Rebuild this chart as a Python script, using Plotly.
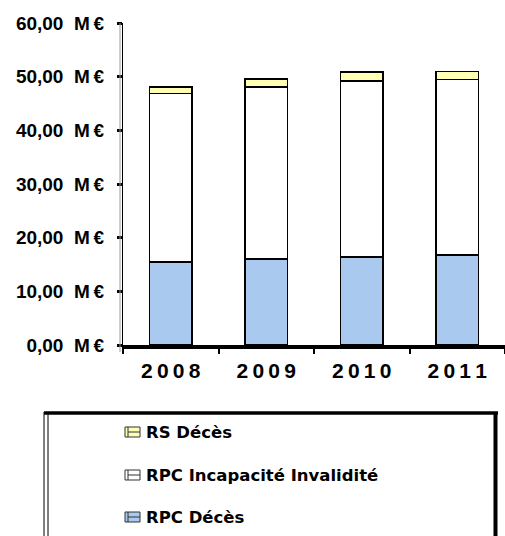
import plotly.graph_objects as go

# Chart data (M€)
years = ["2008", "2009", "2010", "2011"]
year_labels = ["2\u20090\u20090\u20098", "2\u20090\u20090\u20099", "2\u20090\u20091\u20090", "2\u20090\u20091\u20091"]
rpc_deces = [15.5, 16.0, 16.4, 16.8]
rpc_incapacite = [31.4, 32.1, 32.8, 32.7]
rs_deces = [1.2, 1.5, 1.7, 1.5]

y_ticks = [0, 10, 20, 30, 40, 50, 60]
y_tick_text = ["0,00", "10,00", "20,00", "30,00", "40,00", "50,00", "60,00"]

series_names = ["RPC Décès", "RPC Incapacité Invalidité", "RS Décès"]
series_colors = ["#A9C9EE", "#FFFFFF", "#FFFFB4"]

W, H = 505, 536
PL, PR, PT, PB = 123, 505, 23, 345


def px_x(px):
    return (px - PL) / (PR - PL)


def px_y(py):
    return (PB - py) / (PB - PT)


fig = go.Figure()
for name, vals, col in zip(series_names, [rpc_deces, rpc_incapacite, rs_deces], series_colors):
    fig.add_trace(go.Bar(
        x=years, y=vals, name=name, width=0.44,
        marker=dict(color=col, line=dict(color="black", width=1.5)),
        showlegend=False,
    ))

shapes = []
# second (shadow) line of the value axis
shapes.append(dict(type="line", xref="paper", yref="paper",
                   x0=px_x(120), x1=px_x(120), y0=px_y(352), y1=px_y(23),
                   line=dict(color="#9a9a9a", width=1)))

# legend frame
shapes.append(dict(type="line", xref="paper", yref="paper",
                   x0=px_x(44), x1=px_x(44), y0=px_y(412), y1=px_y(545),
                   line=dict(color="black", width=1)))
shapes.append(dict(type="line", xref="paper", yref="paper",
                   x0=px_x(48), x1=px_x(48), y0=px_y(414), y1=px_y(545),
                   line=dict(color="black", width=1)))
shapes.append(dict(type="line", xref="paper", yref="paper",
                   x0=px_x(44), x1=px_x(498), y0=px_y(413), y1=px_y(413),
                   line=dict(color="black", width=3.5)))
shapes.append(dict(type="line", xref="paper", yref="paper",
                   x0=px_x(495.5), x1=px_x(495.5), y0=px_y(412), y1=px_y(545),
                   line=dict(color="black", width=4)))

annotations = []
legend_rows = [("RS Décès", "#FFFFB4", 432), ("RPC Incapacité Invalidité", "#FFFFFF", 475),
               ("RPC Décès", "#A9C9EE", 517)]
for text, col, cy in legend_rows:
    shapes.append(dict(type="rect", xref="paper", yref="paper",
                       x0=px_x(125), x1=px_x(140), y0=px_y(cy - 5), y1=px_y(cy + 5),
                       fillcolor=col, line=dict(color="#333333", width=1)))
    shapes.append(dict(type="line", xref="paper", yref="paper",
                       x0=px_x(128), x1=px_x(128), y0=px_y(cy - 5), y1=px_y(cy + 5),
                       line=dict(color="#333333", width=1)))
    shapes.append(dict(type="line", xref="paper", yref="paper",
                       x0=px_x(128), x1=px_x(140), y0=px_y(cy), y1=px_y(cy),
                       line=dict(color="#333333", width=1)))
    annotations.append(dict(xref="paper", yref="paper", x=px_x(144), y=px_y(cy),
                            xanchor="left", yanchor="middle", showarrow=False,
                            text=text,
                            font=dict(family="DejaVu Sans", size=16.5, color="black", weight="bold")))

fig.update_layout(
    width=W, height=H,
    margin=dict(l=PL, r=W - PR, t=PT, b=H - PB, pad=0),
    paper_bgcolor="white", plot_bgcolor="white",
    barmode="stack", bargap=0.56,
    shapes=shapes, annotations=annotations,
    showlegend=False,
)
fig.update_xaxes(
    type="category", tickmode="array", tickvals=years, ticktext=year_labels,
    showline=True, linecolor="black", linewidth=4,
    ticks="outside", tickson="boundaries", ticklen=5, tickwidth=2, tickcolor="black",
    ticklabelstandoff=4,
    tickfont=dict(family="Liberation Sans", size=21, color="black", weight="bold"),
    showgrid=False, zeroline=False,
)
fig.update_yaxes(
    range=[0, 60], tickmode="array", tickvals=y_ticks,
    ticktext=[t + "\u00a0\u00a0M\u2009€" for t in y_tick_text],
    showline=True, linecolor="black", linewidth=1,
    ticks="outside", ticklen=5, tickwidth=3, tickcolor="black",
    ticklabelstandoff=9,
    tickfont=dict(family="Liberation Sans", size=19, color="black", weight="bold"),
    showgrid=False, zeroline=False,
)

fig.write_html("out.html")
